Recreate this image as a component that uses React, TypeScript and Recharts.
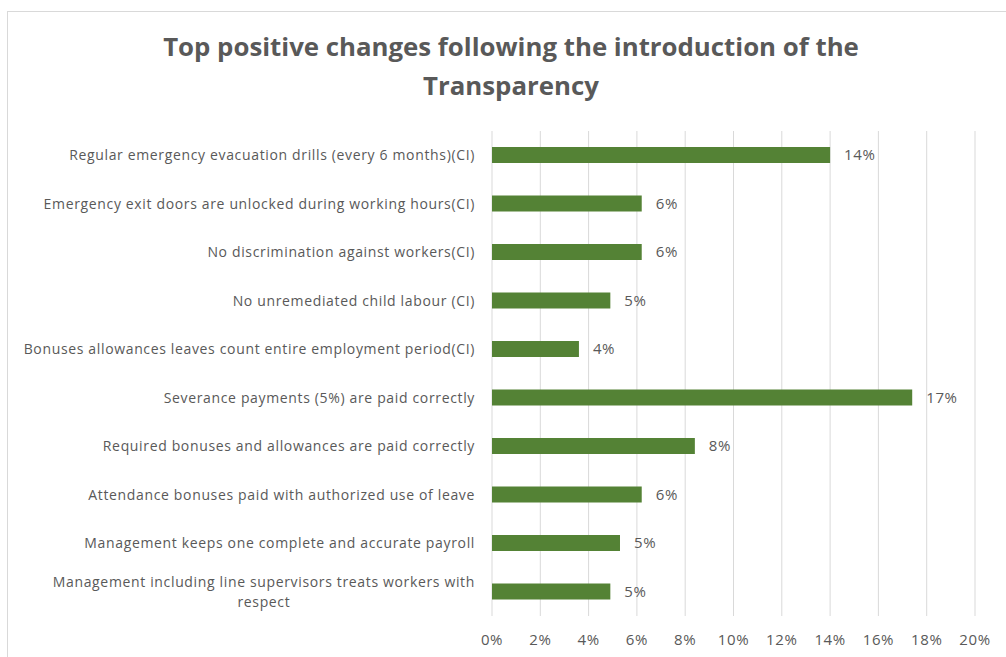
import React from "react";
import { BarChart, Bar, XAxis, YAxis, CartesianGrid, LabelList } from "recharts";

const categories = [
  "Regular emergency evacuation drills (every 6 months)(CI)",
  "Emergency exit doors are unlocked during working hours(CI)",
  "No discrimination against workers(CI)",
  "No unremediated child labour (CI)",
  "Bonuses allowances leaves count entire employment period(CI)",
  "Severance payments (5%) are paid correctly",
  "Required bonuses and allowances are paid correctly",
  "Attendance bonuses paid with authorized use of leave",
  "Management keeps one complete and accurate payroll",
  "Management including line supervisors treats workers with\nrespect",
];
const shares = [14.0, 6.2, 6.2, 4.9, 3.6, 17.4, 8.4, 6.2, 5.3, 4.9];
const xTicks = [0, 2, 4, 6, 8, 10, 12, 14, 16, 18, 20];

const data = categories.map((name, i) => ({ name, value: shares[i] }));

const TEXT = "#595959";
const FONT = "'Open Sans', sans-serif";
const LABEL_SIZE = 14;
const LABEL_SPACING = 0.65;

let ctx: CanvasRenderingContext2D | null = null;
function measure(s: string) {
  if (!ctx) ctx = document.createElement("canvas").getContext("2d");
  if (!ctx) return s.length * 7.5;
  ctx.font = `${LABEL_SIZE}px ${FONT}`;
  return ctx.measureText(s).width + s.length * LABEL_SPACING;
}

function CategoryTick(props: any) {
  const { x, y, payload } = props;
  const lines = String(payload.value).split("\n");
  const common = {
    fill: TEXT,
    fontSize: LABEL_SIZE,
    fontFamily: FONT,
    letterSpacing: LABEL_SPACING,
  };
  if (lines.length === 1) {
    return (
      <text x={x} y={y} dy="0.35em" textAnchor="end" {...common}>
        {lines[0]}
      </text>
    );
  }
  const w = Math.max(...lines.map(measure));
  const cx = x - w / 2;
  return (
    <text x={cx} y={y} textAnchor="middle" {...common}>
      {lines.map((l, i) => (
        <tspan key={i} x={cx} y={y + (i - (lines.length - 1) / 2) * 20} dy="0.35em">
          {l}
        </tspan>
      ))}
    </text>
  );
}

function PercentTick(props: any) {
  const { x, y, payload } = props;
  return (
    <text x={x} y={y + 21} textAnchor="middle" fill={TEXT} fontSize={15} letterSpacing={0.6} fontFamily={FONT}>
      {payload.value}%
    </text>
  );
}

export default function App() {
  return (
    <div style={{ position: "absolute", left: 0, top: 0, width: 1006, height: 657, overflow: "hidden", background: "#fff" }}>
      <div
        style={{
          position: "absolute",
          left: 7,
          top: 11,
          width: 1200,
          height: 800,
          borderTop: "1px solid #d9d9d9",
          borderLeft: "1px solid #d9d9d9",
        }}
      />
      <div
        style={{
          position: "absolute",
          left: 0,
          top: 27,
          width: 1022,
          textAlign: "center",
          color: TEXT,
          fontFamily: FONT,
          fontWeight: 700,
          fontSize: 25.8,
          lineHeight: "39px",
        }}
      >
        Top positive changes following the introduction of the
        <br />
        Transparency
      </div>
      <div style={{ position: "absolute", left: 0, top: 0 }}>
        <BarChart
          width={1006}
          height={657}
          data={data}
          layout="vertical"
          margin={{ top: 131, right: 31, bottom: 10, left: 0 }}
          barCategoryGap={0}
        >
          <CartesianGrid horizontal={false} stroke="#d9d9d9" />
          <XAxis
            type="number"
            domain={[0, 20]}
            ticks={xTicks}
            interval={0}
            axisLine={false}
            tickLine={false}
            height={31}
            tick={<PercentTick />}
          />
          <YAxis
            type="category"
            dataKey="name"
            width={492}
            axisLine={false}
            tickLine={false}
            tickMargin={11}
            interval={0}
            tick={<CategoryTick />}
          />
          <Bar dataKey="value" fill="#548235" barSize={16} isAnimationActive={false}>
            <LabelList
              dataKey="value"
              position="right"
              offset={14}
              formatter={(v: any) => `${Math.round(Number(v))}%`}
              fill={TEXT}
              fontSize={15}
              letterSpacing={0.6}
              fontFamily={FONT}
            />
          </Bar>
        </BarChart>
      </div>
    </div>
  );
}
